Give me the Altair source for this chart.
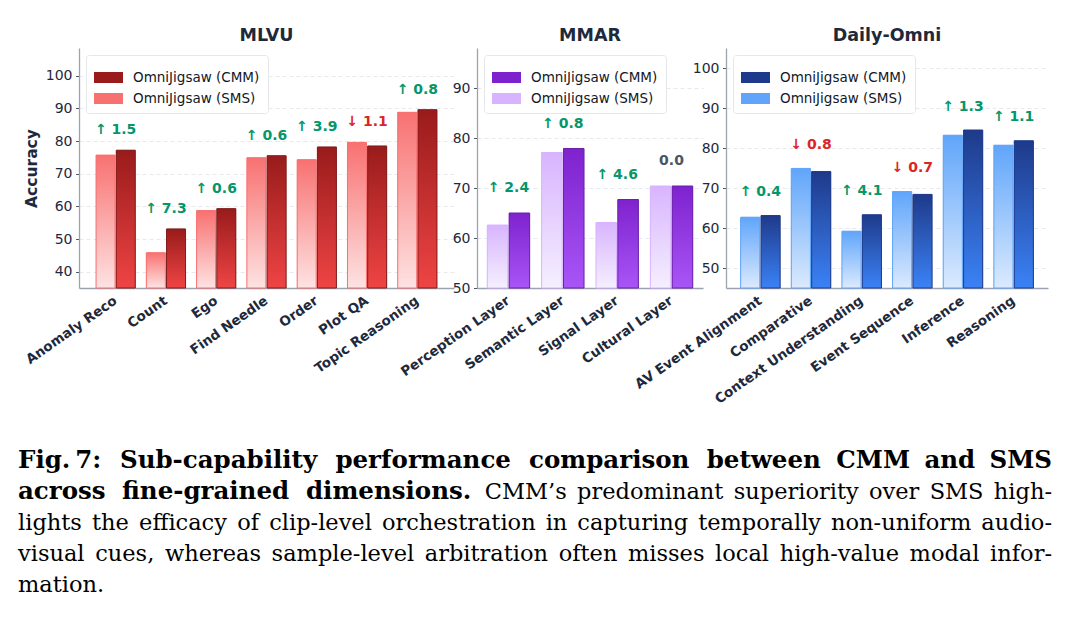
import altair as alt
import pandas as pd

CMM = "OmniJigsaw (CMM)"
SMS = "OmniJigsaw (SMS)"

# ---- accuracy per sub-capability ----
mlvu_cats = ["Anomaly Reco", "Count", "Ego", "Find Needle", "Order", "Plot QA", "Topic Reasoning"]
mlvu_sms = [75.7, 45.8, 58.7, 74.9, 74.3, 79.6, 88.8]
mlvu_cmm = [77.2, 53.1, 59.3, 75.5, 78.2, 78.5, 89.6]
mlvu_ticks = [40, 50, 60, 70, 80, 90, 100]

mmar_cats = ["Perception Layer", "Semantic Layer", "Signal Layer", "Cultural Layer"]
mmar_sms = [62.6, 77.1, 63.1, 70.4]
mmar_cmm = [65.0, 77.9, 67.7, 70.4]
mmar_ticks = [50, 60, 70, 80, 90]

daily_cats = ["AV Event Alignment", "Comparative", "Context Understanding",
              "Event Sequence", "Inference", "Reasoning"]
daily_sms = [62.7, 74.9, 59.2, 69.1, 83.2, 80.7]
daily_cmm = [63.1, 74.1, 63.3, 68.4, 84.5, 81.8]
daily_ticks = [50, 60, 70, 80, 90, 100]

caption_lines = [
    [("Fig.\u20097: Sub-capability performance comparison between CMM and SMS", "bold")],
    [("across fine-grained dimensions.", "bold"),
     ("CMM\u2019s predominant superiority over SMS high-", "normal")],
    [("lights the efficacy of clip-level orchestration in capturing temporally non-uniform audio-", "normal")],
    [("visual cues, whereas sample-level arbitration often misses local high-value modal infor-", "normal")],
    [("mation.", "normal")],
]

# ---- styling ----
INK = "#1e293b"
SPINE = "#9ca3af"
GRID = "#e5e7eb"
UP, DOWN, FLAT = "#059669", "#dc2626", "#4b5563"
SANS = "DejaVu Sans"
SERIF = "DejaVu Serif"
PLOT_H = 240

panels = [
    dict(title="MLVU", cats=mlvu_cats, sms=mlvu_sms, cmm=mlvu_cmm, ticks=mlvu_ticks,
         domain=[35, 108.5], width=375, outer=0.339, lift=20, ytitle="Accuracy",
         cmm_top="#991b1b", cmm_bottom="#ef4444", cmm_edge="#7f1d1d",
         sms_top="#f87171", sms_bottom="#fee2e2", sms_edge="#f87171"),
    dict(title="MMAR", cats=mmar_cats, sms=mmar_sms, cmm=mmar_cmm, ticks=mmar_ticks,
         domain=[50, 98], width=226, outer=0.189, lift=25, ytitle=None,
         cmm_top="#7e22ce", cmm_bottom="#a855f7", cmm_edge="#6b21a8",
         sms_top="#d8b4fe", sms_bottom="#f5efff", sms_edge="#d8b4fe"),
    dict(title="Daily-Omni", cats=daily_cats, sms=daily_sms, cmm=daily_cmm, ticks=daily_ticks,
         domain=[45, 105], width=322, outer=0.289, lift=23.5, ytitle=None,
         cmm_top="#1e3a8a", cmm_bottom="#3b82f6", cmm_edge="#1e3a8a",
         sms_top="#60a5fa", sms_bottom="#dbeafe", sms_edge="#60a5fa"),
]


def gradient(top, bottom):
    return alt.LinearGradient(
        gradient="linear", x1=0, y1=0, x2=0, y2=1,
        stops=[alt.GradientStop(color=top, offset=0),
               alt.GradientStop(color=bottom, offset=1)],
    )


def make_panel(p):
    cats = p["cats"]
    n = len(cats)
    bars = pd.DataFrame({
        "category": cats * 2,
        "series": [SMS] * n + [CMM] * n,
        "accuracy": p["sms"] + p["cmm"],
    })
    labels, tones, peaks = [], [], []
    for s, c in zip(p["sms"], p["cmm"]):
        d = round(c - s, 1)
        if d > 0:
            labels.append(f"\u2191 {d:.1f}"); tones.append(UP)
        elif d < 0:
            labels.append(f"\u2193 {abs(d):.1f}"); tones.append(DOWN)
        else:
            labels.append(f"{abs(d):.1f}"); tones.append(FLAT)
        peaks.append(max(s, c))
    notes = pd.DataFrame({"category": cats, "peak": peaks, "label": labels, "tone": tones})

    x = alt.X(
        "category:N", sort=cats, title=None,
        scale=alt.Scale(paddingInner=0.22, paddingOuter=p["outer"]),
        axis=alt.Axis(labelAngle=-35, labelAlign="right", labelBaseline="middle",
                      ticks=False, labelPadding=11, grid=False,
                      labelFont=SANS, labelFontWeight="bold", labelFontSize=13.5,
                      labelColor=INK, domainColor=SPINE, domainWidth=1.3, labelLimit=300),
    )
    xo = alt.XOffset("series:N", sort=[SMS, CMM],
                     scale=alt.Scale(domain=[SMS, CMM], paddingInner=0.06))
    yaxis = alt.Axis(values=p["ticks"], grid=True, gridColor=GRID, gridDash=[4, 3],
                     gridWidth=0.9, domainColor=SPINE, domainWidth=1.3, tickColor="#4b5563",
                     tickSize=3.5, labelPadding=3.5, labelFont=SANS, labelFontSize=14,
                     labelColor=INK, titleFont=SANS, titleFontSize=15.5, titleFontWeight="bold",
                     titleColor=INK, titlePadding=6)
    yscale = alt.Scale(domain=p["domain"], nice=False, zero=False)
    y = alt.Y("accuracy:Q", scale=yscale, axis=yaxis, title=p["ytitle"])
    y2 = alt.datum(p["domain"][0])

    solid = alt.Chart(bars).mark_bar().encode(
        x=x, xOffset=xo, y=y, y2=y2,
        color=alt.Color(
            "series:N",
            scale=alt.Scale(domain=[CMM, SMS], range=[p["cmm_top"], p["sms_top"]]),
            legend=alt.Legend(
                title=None, orient="top-left", offset=7, padding=8,
                strokeColor="#e5e7eb", fillColor="white", cornerRadius=3,
                symbolType="M-1,-0.38H1V0.38H-1Z", symbolSize=841,
                symbolStrokeWidth=0, labelFont=SANS, labelFontSize=13.5,
                labelColor="#111827", labelOffset=10, rowPadding=0, labelLimit=300,
            ),
        ),
    )
    sms_bars = alt.Chart(bars).transform_filter(alt.datum.series == SMS).mark_bar(
        fill=gradient(p["sms_top"], p["sms_bottom"]), stroke=p["sms_edge"], strokeWidth=1
    ).encode(x=x, xOffset=xo, y=y, y2=y2)
    cmm_bars = alt.Chart(bars).transform_filter(alt.datum.series == CMM).mark_bar(
        fill=gradient(p["cmm_top"], p["cmm_bottom"]), stroke=p["cmm_edge"], strokeWidth=1
    ).encode(x=x, xOffset=xo, y=y, y2=y2)
    deltas = alt.Chart(notes).mark_text(
        font=SANS, fontWeight="bold", fontSize=14, baseline="middle", dy=-p["lift"]
    ).encode(
        x=x,
        y=alt.Y("peak:Q", scale=yscale, axis=yaxis, title=p["ytitle"]),
        text="label:N",
        color=alt.Color("tone:N", scale=None),
    )
    return alt.layer(solid, sms_bars, cmm_bars, deltas).resolve_scale(
        color="independent"
    ).properties(
        width=p["width"], height=PLOT_H,
        title=alt.TitleParams(p["title"], font=SANS, fontSize=17.5, fontWeight="bold",
                              color=INK, offset=4, anchor="middle"),
    )


# ---- caption, set as justified lines ----
REG = dict(zip("abcdefghijklmnopqrstuvwxyz",
               [.596, .640, .560, .640, .592, .370, .640, .644, .320, .310, .606, .320, .948,
                .644, .602, .640, .640, .478, .513, .402, .644, .565, .856, .564, .565, .523]))
REG.update(zip("ABCDEFGHIJKLMNOPQRSTUVWXYZ",
               [.722, .735, .765, .802, .730, .694, .799, .872, .395, .401, .747, .664, 1.024,
                .875, .820, .673, .820, .753, .685, .667, .843, .722, 1.028, .712, .660, .695]))
REG.update({".": .318, ",": .318, "-": .338, "\u2019": .318, ":": .337, "\u2009": .2, "7": .636})
BOLD = dict(zip("abcdefghijklmnopqrstuvwxyz",
                [.678, .714, .593, .714, .651, .435, .714, .760, .380, .374, .730, .380, 1.123,
                 .760, .669, .714, .714, .560, .593, .478, .760, .652, .920, .644, .652, .582]))
BOLD.update(zip("ABCDEFGHIJKLMNOPQRSTUVWXYZ",
                [.776, .823, .796, .872, .794, .761, .854, .940, .469, .470, .853, .742, 1.128,
                 .914, .874, .780, .874, .831, .720, .752, .872, .776, 1.120, .775, .742, .747]))
BOLD.update({".": .380, ",": .380, "-": .415, ":": .400, "\u2009": .2, "7": .696})

CAP_SIZE = {"normal": 22.5, "bold": 24.5}
CAP_LEFT, CAP_RIGHT = -61, 973
CAP_FIRST, CAP_LEAD = 40, 31
CAP_TOP = 380          # caption block offset below the panels' top edge


def word_width(word, weight):
    table = BOLD if weight == "bold" else REG
    return sum(table.get(ch, 0.6) for ch in word) * CAP_SIZE[weight]


rows = []
for i, line in enumerate(caption_lines):
    words = [(w, weight) for seg, weight in line for w in seg.split(" ")]
    widths = [word_width(w, wt) for w, wt in words]
    justify = i < len(caption_lines) - 1 and len(words) > 1
    gap = (CAP_RIGHT - CAP_LEFT - sum(widths)) / (len(words) - 1) if justify else 7
    cursor = CAP_LEFT
    for j, ((w, wt), wd) in enumerate(zip(words, widths)):
        if j == 0:
            align, xpos = "left", CAP_LEFT
        elif justify and j == len(words) - 1:
            align, xpos = "right", CAP_RIGHT
        else:
            align, xpos = "center", cursor + wd / 2
        rows.append(dict(word=w, weight=wt, align=align, x=xpos, y=CAP_FIRST + i * CAP_LEAD))
        cursor += wd + gap
words_df = pd.DataFrame(rows)

caption_layers = []
for (align, weight), sub in words_df.groupby(["align", "weight"]):
    caption_layers.append(
        alt.Chart(sub).mark_text(align=align, baseline="alphabetic", font=SERIF,
                                 fontSize=CAP_SIZE[weight], fontWeight=weight, color="black")
        .encode(x=alt.X("x:Q", scale=None), y=alt.Y("y:Q", scale=None), text="word:N")
    )
caption = alt.layer(*caption_layers).properties(width=900, height=160)

charts = alt.hconcat(*[make_panel(p) for p in panels], spacing=23, bounds="flush").resolve_scale(
    color="independent", xOffset="independent"
).resolve_legend(color="independent")

chart = alt.vconcat(charts, caption, spacing=CAP_TOP, bounds="flush").properties(
    padding={"left": 18, "right": 18, "top": 26, "bottom": 8},
    background="white",
).configure_view(stroke=None)

chart.save("out.html", embed_options={"renderer": "svg", "actions": False})
